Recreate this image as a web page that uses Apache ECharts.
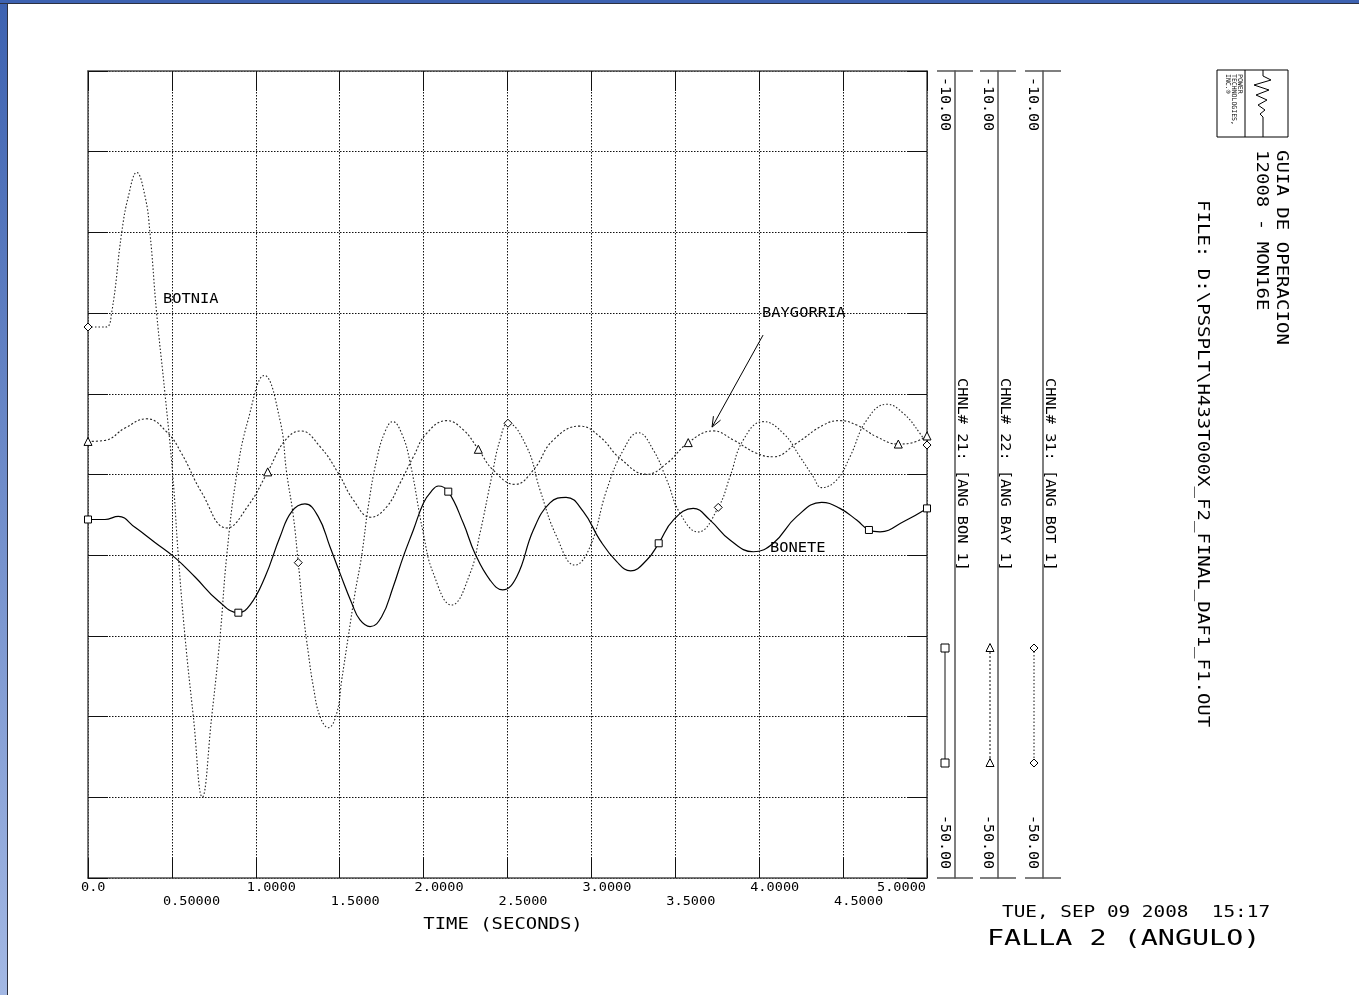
<!DOCTYPE html>
<html><head><meta charset="utf-8">
<script src="https://cdn.jsdelivr.net/npm/echarts@6/dist/echarts.min.js"></script>
<style>
html,body{margin:0;padding:0;width:1359px;height:995px;overflow:hidden;background:#fff;}
#side{position:absolute;left:0;top:0;width:7px;height:995px;background:linear-gradient(#3d62b1,#a3b8e4);border-right:1px solid #2d3140;}
#topbar{position:absolute;left:0;top:0;width:1359px;height:3px;background:#3d62b1;border-bottom:1px solid #2d3140;}
#chart{position:absolute;left:0;top:0;width:1359px;height:995px;}
</style></head><body>
<div id="side"></div><div id="topbar"></div><div id="chart"></div>
<script>
// ---------- data (time in s, angle in deg) ----------
const xTickValues = [0, 0.5, 1, 1.5, 2, 2.5, 3, 3.5, 4, 4.5, 5];
const xTickLabels = ['0.0','0.50000','1.0000','1.5000','2.0000','2.5000','3.0000','3.5000','4.0000','4.5000','5.0000'];
const yMin = -50, yMax = -10;
const channelTop = '-10.00', channelBottom = '-50.00';

const bonete = [[0,-32.23],[0.101,-32.23],[0.181,-32.08],[0.280,-32.62],[0.399,-33.37],[0.518,-34.12],[0.638,-35.08],[0.777,-36.27],[0.896,-36.85],[0.965,-36.48],[1.055,-35.08],[1.144,-33.10],[1.214,-31.84],[1.293,-31.46],[1.372,-32.09],[1.442,-33.58],[1.502,-34.90],[1.572,-36.38],[1.621,-37.21],[1.681,-37.54],[1.750,-37.05],[1.819,-35.56],[1.879,-34.07],[1.939,-32.75],[2.000,-31.40],[2.045,-30.85],[2.088,-30.57],[2.147,-30.85],[2.237,-32.42],[2.306,-33.91],[2.396,-35.23],[2.471,-35.72],[2.555,-35.07],[2.654,-32.75],[2.753,-31.41],[2.849,-31.13],[2.952,-31.84],[3.051,-33.25],[3.151,-34.32],[3.234,-34.78],[3.330,-34.24],[3.401,-33.41],[3.488,-32.26],[3.607,-31.68],[3.707,-32.26],[3.826,-33.25],[3.965,-33.83],[4.084,-33.41],[4.223,-32.09],[4.372,-31.38],[4.481,-31.68],[4.581,-32.26],[4.654,-32.75],[4.720,-32.84],[4.859,-32.34],[5.0,-31.68]];
const boneteMarks = [0, 0.896, 2.147, 3.401, 4.654, 5.0];

const baygorria = [[0,-28.36],[0.101,-28.31],[0.220,-27.70],[0.350,-27.24],[0.469,-27.89],[0.558,-28.96],[0.678,-30.90],[0.827,-32.65],[0.955,-31.54],[1.071,-29.87],[1.174,-28.32],[1.268,-27.84],[1.383,-28.62],[1.492,-29.94],[1.581,-31.26],[1.685,-32.12],[1.780,-31.60],[1.859,-30.44],[1.939,-29.12],[2.018,-27.96],[2.138,-27.33],[2.237,-27.79],[2.326,-28.75],[2.415,-29.78],[2.545,-30.49],[2.654,-29.78],[2.773,-28.29],[2.932,-27.60],[3.051,-28.13],[3.171,-29.20],[3.330,-29.99],[3.449,-29.45],[3.577,-28.42],[3.727,-27.84],[3.846,-28.29],[3.985,-28.95],[4.084,-29.12],[4.223,-28.45],[4.382,-27.55],[4.481,-27.33],[4.581,-27.55],[4.700,-28.13],[4.829,-28.49],[4.899,-28.45],[5.0,-28.09]];
const baygorriaMarks = [0, 1.071, 2.326, 3.577, 4.829, 5.0];

const botnia = [[0,-22.69],[0.107,-22.69],[0.141,-21.98],[0.201,-18.00],[0.241,-16.20],[0.290,-15.03],[0.340,-16.22],[0.369,-18.00],[0.409,-22.00],[0.459,-26.01],[0.505,-30.02],[0.538,-34.01],[0.578,-38.03],[0.628,-42.02],[0.681,-45.99],[0.737,-42.02],[0.787,-38.03],[0.827,-34.01],[0.886,-30.02],[0.954,-27.30],[1.051,-25.09],[1.144,-27.30],[1.184,-29.93],[1.224,-32.09],[1.253,-34.37],[1.283,-36.88],[1.313,-38.85],[1.343,-40.52],[1.383,-42.00],[1.432,-42.55],[1.482,-41.84],[1.512,-40.19],[1.551,-38.04],[1.591,-35.89],[1.631,-34.02],[1.670,-31.60],[1.720,-29.28],[1.770,-27.88],[1.816,-27.38],[1.869,-27.96],[1.919,-29.38],[1.998,-32.91],[2.058,-34.90],[2.167,-36.47],[2.277,-34.90],[2.336,-32.91],[2.406,-30.11],[2.455,-28.29],[2.503,-27.46],[2.614,-28.62],[2.694,-30.77],[2.793,-33.08],[2.902,-34.49],[2.992,-33.58],[3.091,-30.77],[3.190,-28.79],[3.280,-27.93],[3.369,-28.79],[3.449,-30.27],[3.528,-31.92],[3.635,-32.85],[3.756,-31.63],[3.826,-30.11],[3.905,-28.29],[4.024,-27.38],[4.144,-27.96],[4.243,-29.12],[4.322,-30.11],[4.372,-30.65],[4.462,-30.27],[4.541,-29.12],[4.641,-27.30],[4.760,-26.52],[4.859,-26.97],[4.958,-27.96],[5.0,-28.54]];
const botniaMarks = [0, 1.253, 2.503, 3.756, 5.0];

const channelNames = ['CHNL# 21: [ANG BON 1]', 'CHNL# 22: [ANG BAY 1]', 'CHNL# 31: [ANG BOT 1]'];
// annotation anchors in data units [t, angle]
const curveNotes = [['BOTNIA', 0.447, -21.33], ['BAYGORRIA', 4.017, -22.0], ['BONETE', 4.064, -33.67]];
const arrowNote = [[4.023, -23.09], [3.719, -27.65]];

const xTitle = 'TIME (SECONDS)';
const titleLines = ['GUIA DE OPERACION', '12008 - MON16E'];
const fileLine = 'FILE: D:\\PSSPLT\\H433T000X_F2_FINAL_DAF1_F1.OUT';
const dateLine = 'TUE, SEP 09 2008  15:17';
const plotTitle = 'FALLA 2 (ANGULO)';
const logoLines = ['POWER', 'TECHNOLOGIES,', 'INC.\u00AE'];

// ---------- chart ----------
const FONT = '"DejaVu Sans Mono", monospace';
const chart = echarts.init(document.getElementById('chart'), null, {renderer: 'canvas'});

function mk(points, marks, sym) {
  return points.map(p => ({value: p, symbol: marks.indexOf(p[0]) >= 0 ? sym : 'none'}));
}
const dotGrid = {color: '#111', width: 1, type: [1.5, 1.5]};
const frame = {color: '#4d4d4d', width: 1.5};
const tick = {show: true, inside: true, length: 20, lineStyle: {color: '#111', width: 1}};

const option = {
  animation: false,
  backgroundColor: 'transparent',
  grid: {left: 88, top: 71, width: 839, height: 807, show: false},
  xAxis: [
    {type: 'value', min: 0, max: 5, interval: 0.5, position: 'bottom',
     axisLine: {show: true, onZero: false, lineStyle: frame}, axisTick: tick,
     axisLabel: {show: false}, splitLine: {show: true, lineStyle: dotGrid}},
    {type: 'value', min: 0, max: 5, interval: 0.5, position: 'top',
     axisLine: {show: true, onZero: false, lineStyle: frame}, axisTick: tick,
     axisLabel: {show: false}, splitLine: {show: false}}
  ],
  yAxis: [
    {type: 'value', min: yMin, max: yMax, interval: 4, position: 'left',
     axisLine: {show: true, onZero: false, lineStyle: frame}, axisTick: tick,
     axisLabel: {show: false}, splitLine: {show: true, lineStyle: dotGrid}},
    {type: 'value', min: yMin, max: yMax, interval: 4, position: 'right',
     axisLine: {show: true, onZero: false, lineStyle: frame}, axisTick: tick,
     axisLabel: {show: false}, splitLine: {show: false}},
    {type: 'value', min: yMin, max: yMax, position: 'right', offset: 28,
     axisLine: {show: true, onZero: false, lineStyle: {color: '#555', width: 1.5}},
     axisTick: {show: false}, axisLabel: {show: false}, splitLine: {show: false}},
    {type: 'value', min: yMin, max: yMax, position: 'right', offset: 71,
     axisLine: {show: true, onZero: false, lineStyle: {color: '#555', width: 1.5}},
     axisTick: {show: false}, axisLabel: {show: false}, splitLine: {show: false}},
    {type: 'value', min: yMin, max: yMax, position: 'right', offset: 116,
     axisLine: {show: true, onZero: false, lineStyle: {color: '#555', width: 1.5}},
     axisTick: {show: false}, axisLabel: {show: false}, splitLine: {show: false}}
  ],
  series: [
    {type: 'line', name: 'BONETE', data: mk(bonete, boneteMarks, 'rect'), smooth: 0.45,
     showSymbol: true, showAllSymbol: true, symbolSize: 7, z: 4,
     lineStyle: {color: '#000', width: 1.2, type: 'solid'},
     itemStyle: {color: '#fff', borderColor: '#000', borderWidth: 1}},
    {type: 'line', name: 'BAYGORRIA', data: mk(baygorria, baygorriaMarks, 'triangle'), smooth: 0.45,
     showSymbol: true, showAllSymbol: true, symbolSize: 8, z: 3,
     lineStyle: {color: '#222', width: 1.1, type: [2, 2]},
     itemStyle: {color: '#fff', borderColor: '#000', borderWidth: 1}},
    {type: 'line', name: 'BOTNIA', data: mk(botnia, botniaMarks, 'diamond'), smooth: 0.45,
     showSymbol: true, showAllSymbol: true, symbolSize: 8, z: 3,
     lineStyle: {color: '#222', width: 1.1, type: [1.5, 2]},
     itemStyle: {color: '#fff', borderColor: '#000', borderWidth: 1}}
  ]
};
chart.setOption(option);

// ---------- annotations placed through the axes ----------
const P = (t, v) => chart.convertToPixel({xAxisIndex: 0, yAxisIndex: 0}, [t, v]);
const g = [];
function T(text, x, y, size, o) {
  o = o || {};
  const a = o.align || 'left', va = o.valign || 'middle';
  g.push({type: 'text', x: x, y: y, rotation: o.rot || 0, scaleX: o.sx || 1, silent: true, z: 20,
    style: {text: text, font: size + 'px ' + FONT, fill: o.color || '#000',
      textAlign: a, textVerticalAlign: va, align: a, verticalAlign: va}});
}
function L(pts, o) {
  o = o || {};
  g.push({type: 'polyline', silent: true, z: 20, shape: {points: pts},
    style: {stroke: o.color || '#000', lineWidth: o.w || 1, fill: null, lineDash: o.dash || null}});
}
const ROT = -Math.PI / 2;
const bottomY = P(0, yMin)[1], topY = P(0, yMax)[1];

// x tick labels (two staggered rows)
xTickValues.forEach((v, i) => {
  const px = P(v, yMin)[0];
  const y = bottomY + (i % 2 === 0 ? 10 : 24);
  if (i === xTickValues.length - 1) T(xTickLabels[i], px - 1, y, 11.5, {sx: 1.18, align: 'right'});
  else T(xTickLabels[i], px - (i === 0 ? 7 : 9), y, 11.5, {sx: 1.18});
});
T(xTitle, 503, bottomY + 47, 15, {sx: 1.26, align: 'center'});

// curve names and arrow
curveNotes.forEach(n => { const p = P(n[1], n[2]); T(n[0], p[0], p[1], 14, {sx: 1.1}); });
const a0 = P(arrowNote[0][0], arrowNote[0][1]), a1 = P(arrowNote[1][0], arrowNote[1][1]);
L([a0, a1]);
(function () {
  const ang = Math.atan2(a1[1] - a0[1], a1[0] - a0[0]), len = 11, sp = 0.38;
  L([[a1[0] - len * Math.cos(ang - sp), a1[1] - len * Math.sin(ang - sp)], a1,
     [a1[0] - len * Math.cos(ang + sp), a1[1] - len * Math.sin(ang + sp)]]);
})();

// channel axes: end ticks, limits, names, line-style keys
const chanX = [955, 998, 1043];
const keyX = [945, 990, 1034];
const keySym = ['rect', 'triangle', 'diamond'];
const keyDash = [null, [2, 2], [1.5, 2]];
chanX.forEach((cx, i) => {
  L([[cx - 18, topY], [cx + 18, topY]], {color: '#555', w: 1.5});
  L([[cx - 18, bottomY], [cx + 18, bottomY]], {color: '#555', w: 1.5});
  T(channelTop, cx - 10, topY + 6, 14, {rot: ROT, sx: 1.07});
  T(channelBottom, cx - 10, bottomY - 9, 14, {rot: ROT, sx: 1.07, align: 'right'});
  T(channelNames[i], cx + 7, (topY + bottomY) / 2, 14, {rot: ROT, sx: 1.09, align: 'center'});
  const kx = keyX[i], k0 = 648, k1 = 763;
  L([[kx, k0], [kx, k1]], {dash: keyDash[i], color: '#111'});
  [k0, k1].forEach(ky => {
    let shape;
    if (keySym[i] === 'rect') shape = [[kx - 4, ky - 4], [kx + 4, ky - 4], [kx + 4, ky + 4], [kx - 4, ky + 4]];
    else if (keySym[i] === 'triangle') shape = [[kx, ky - 4.5], [kx + 4, ky + 3.5], [kx - 4, ky + 3.5]];
    else shape = [[kx, ky - 4], [kx + 4, ky], [kx, ky + 4], [kx - 4, ky]];
    g.push({type: 'polygon', silent: true, z: 21, shape: {points: shape},
      style: {fill: '#fff', stroke: '#000', lineWidth: 1}});
  });
});

// title block (rotated)
T(titleLines[0], 1281, 150, 16, {rot: ROT, sx: 1.19});
T(titleLines[1], 1261, 150, 16, {rot: ROT, sx: 1.19});
T(fileLine, 1202, 200, 16, {rot: ROT, sx: 1.19});
// logo
g.push({type: 'rect', silent: true, z: 20, shape: {x: 1217, y: 70, width: 71, height: 67},
  style: {fill: 'none', stroke: '#000', lineWidth: 1}});
L([[1245, 70], [1245, 137]]);
L([[1263, 70], [1263, 76], [1271, 80], [1254, 85], [1269, 90], [1256, 95], [1267, 100], [1258, 105], [1265, 110], [1260, 114], [1263, 117], [1263, 137]]);
logoLines.forEach((s, i) => T(s, 1240 - i * 6, 74, 6.5, {rot: ROT, sx: 1.0}));

// footer
T(dateLine, 1002, 913, 16, {sx: 1.21});
T(plotTitle, 987, 939, 21.5, {sx: 1.32});

chart.setOption({graphic: g});
</script>
</body></html>
